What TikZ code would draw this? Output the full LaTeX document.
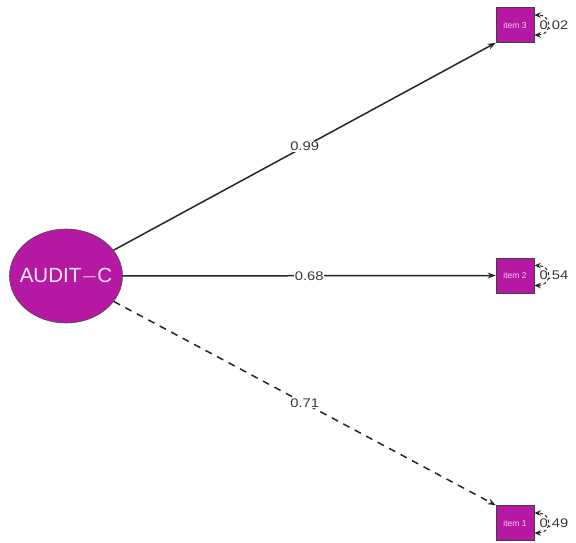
\documentclass[tikz,border=0pt]{standalone}
\usepackage{fontspec}
\setmainfont{Liberation Sans}
\usetikzlibrary{arrows.meta,shapes.geometric}
\definecolor{latent}{RGB}{181,24,163}
\definecolor{labgray}{RGB}{55,55,55}
% slightly widened numerals for the coefficients
\newcommand{\widenum}[1]{\scalebox{1.18}[1]{#1}}
\tikzset{
  latentnode/.style={ellipse, draw=black!70, line width=0.6pt, fill=latent,
    minimum width=113pt, minimum height=94pt, inner xsep=-25pt, inner ysep=0pt,
    text=white!92!latent, font=\fontsize{20.5}{21}\selectfont},
  itembox/.style={rectangle, draw=black!75, line width=0.6pt, fill=latent,
    minimum width=38pt, minimum height=35pt, inner sep=0pt,
    text=white!80!latent, font=\fontsize{8.5}{9}\selectfont},
  loading/.style={line width=1.5pt, draw=black!85, -{Stealth[length=8pt,width=6pt]}},
  coef/.style={fill=white, inner sep=0.6pt, text=labgray, font=\fontsize{12.5}{13}\selectfont},
  resid/.style={line width=1pt, dashed, dash pattern=on 3pt off 2.5pt, draw=black!85,
    {Stealth[length=6.5pt,width=5.5pt]}-{Stealth[length=6.5pt,width=5.5pt]}},
  residlab/.style={text=labgray, font=\fontsize{12.5}{13}\selectfont, inner sep=0pt}
}
\begin{document}
\begin{tikzpicture}[x=1pt,y=-1pt]
\useasboundingbox (0,0) rectangle (576,542);
\fill[white] (0,0) rectangle (576,542);

\node[latentnode] (audit) at (66,276) {AUDIT$-$C};
\node[itembox] (i3) at (515,25) {item 3};
\node[itembox] (i2) at (515,275.5) {item 2};
\node[itembox] (i1) at (515,523) {item 1};

% factor loadings
\draw[loading] (audit) -- (i3.south west) node[coef, pos=0.5] {\widenum{0.99}};
\draw[loading] (audit) -- (i2.west) node[coef, pos=0.5] {\widenum{0.68}};
\draw[loading, dashed, dash pattern=on 7pt off 6pt] (audit) -- (i1.north west) node[coef, pos=0.5] {\widenum{0.71}};

% residual variances
\foreach \n/\v in {i3/0.02, i2/0.54, i1/0.49}{
  \coordinate (\n-a) at ([yshift=-10pt]\n.east);
  \coordinate (\n-b) at ([yshift=10pt]\n.east);
  \draw[resid] (\n-a) .. controls ([xshift=18pt]\n-a) and ([xshift=18pt]\n-b) .. (\n-b);
  \node[residlab, anchor=west] (\n-lab) at ([xshift=5pt]\n.east) {\widenum{\v}};
}
\end{tikzpicture}
\end{document}
